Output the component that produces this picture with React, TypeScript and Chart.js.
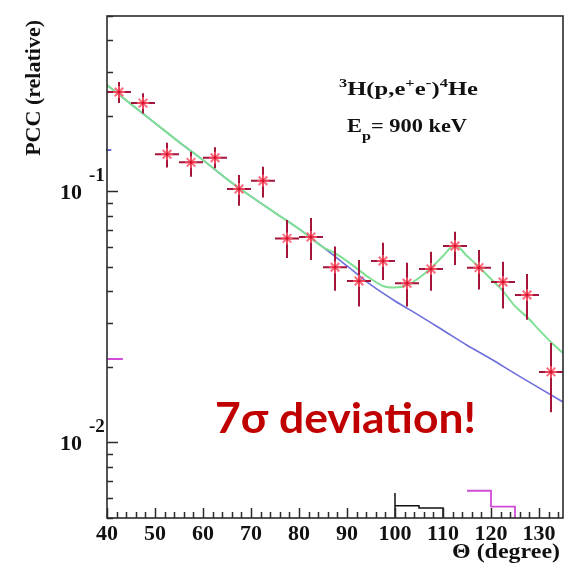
import { useEffect, useRef } from 'react';
import { Chart, registerables } from 'chart.js';

Chart.register(...registerables);

// ---- data ----
const angles = [42.5, 47.5, 52.5, 57.5, 62.5, 67.5, 72.5, 77.5, 82.5, 87.5, 92.5, 97.5, 102.5, 107.5, 112.5, 117.5, 122.5, 127.5, 132.5];
const pcc = [0.2489, 0.2249, 0.1406, 0.1306, 0.1362, 0.1022, 0.1103, 0.0650, 0.0658, 0.0499, 0.0440, 0.0528, 0.0431, 0.0491, 0.0606, 0.0497, 0.0436, 0.0387, 0.0191];
const pccHigh = [0.2729, 0.2460, 0.1563, 0.1439, 0.1499, 0.1162, 0.1254, 0.0769, 0.0783, 0.0603, 0.0533, 0.0625, 0.0520, 0.0575, 0.0691, 0.0584, 0.0525, 0.0469, 0.0249];
const pccLow = [0.2249, 0.2046, 0.1247, 0.1144, 0.1236, 0.0877, 0.0947, 0.0543, 0.0533, 0.0402, 0.0348, 0.0444, 0.0348, 0.0402, 0.0509, 0.0407, 0.0342, 0.0308, 0.0132];
const angleHalfWidth = 2.5;

const bgAngles = [40, 45, 50, 55, 60, 65, 70, 75, 80, 85, 90, 95, 100, 105, 110, 115, 120, 125, 130, 135];
const bgFit = [0.2655, 0.2228, 0.1873, 0.1574, 0.1334, 0.1120, 0.0955, 0.0822, 0.0709, 0.0600, 0.0505, 0.0424, 0.0366, 0.0321, 0.0280, 0.0244, 0.0215, 0.0188, 0.0165, 0.0145];

const totalAngles = [40, 45, 50, 55, 60, 65, 70, 75, 80, 85, 87.5, 90, 92.5, 95, 97.5, 100, 102.5, 105, 107.5, 110, 112.5, 115, 117.5, 120, 122.5, 125, 127.5, 130, 132.5, 135];
const totalFit = [0.2655, 0.2228, 0.1873, 0.1574, 0.1334, 0.1120, 0.0955, 0.0822, 0.0709, 0.0600, 0.0568, 0.0528, 0.0486, 0.0448, 0.0420, 0.0414, 0.0424, 0.0452, 0.0495, 0.0553, 0.0612, 0.0553, 0.0500, 0.0448, 0.0401, 0.0349, 0.0316, 0.0281, 0.0251, 0.0227];

const histBlackX = [100, 100, 100, 105, 105, 110, 110];
const histBlackY = [0.005, 0.00629, 0.0056, 0.0056, 0.00548, 0.00548, 0.005];
const histMagentaX = [115, 120, 120, 125, 125];
const histMagentaY = [0.00642, 0.00642, 0.00555, 0.00555, 0.005];
const sideMagentaX = [40, 43.3];
const sideMagentaY = [0.0215, 0.0215];
const sideBlueX = [39.8, 40.9];
const sideBlueY = [0.1462, 0.1462];

const xTickLabels = [40, 50, 60, 70, 80, 90, 100, 110, 120, 130];
const yDecades = [0.1, 0.01];
const yExponents = ['-1', '-2'];

const X_MIN = 40;
const X_MAX = 135;
const Y_MIN = 0.005;
const Y_MAX = 0.5;

const SERIF = '"Liberation Serif", "Times New Roman", serif';
const AXIS_COLOR = '#2b2b2b';

type Piece = { t: string; size: number; dy: number };

function drawRich(ctx: CanvasRenderingContext2D, pieces: Piece[], x: number, baseline: number, width: number) {
  let natural = 0;
  for (const p of pieces) {
    ctx.font = `bold ${p.size}px ${SERIF}`;
    natural += ctx.measureText(p.t).width;
  }
  const sx = width / natural;
  ctx.save();
  ctx.translate(x, baseline);
  ctx.scale(sx, 1);
  ctx.textAlign = 'left';
  ctx.textBaseline = 'alphabetic';
  let cx = 0;
  for (const p of pieces) {
    ctx.font = `bold ${p.size}px ${SERIF}`;
    ctx.fillText(p.t, cx, p.dy);
    cx += ctx.measureText(p.t).width;
  }
  ctx.restore();
}

const errorBarPlugin = {
  id: 'errorBars',
  beforeDatasetDraw(chart: any, args: any) {
    if (args.index !== 1) return;
    const { ctx, scales } = chart;
    const xs = scales.x;
    const ys = scales.y;
    ctx.save();
    ctx.strokeStyle = '#a3163a';
    ctx.lineWidth = 2;
    angles.forEach((a, i) => {
      const px = xs.getPixelForValue(a);
      const py = ys.getPixelForValue(pcc[i]);
      ctx.beginPath();
      ctx.moveTo(px, ys.getPixelForValue(pccHigh[i]));
      ctx.lineTo(px, ys.getPixelForValue(pccLow[i]));
      ctx.moveTo(xs.getPixelForValue(a - angleHalfWidth), py);
      ctx.lineTo(xs.getPixelForValue(a + angleHalfWidth), py);
      ctx.stroke();
    });
    ctx.restore();
  },
};

const framePlugin = {
  id: 'rootFrame',
  afterDraw(chart: any) {
    const { ctx, chartArea: ca, scales } = chart;
    const xs = scales.x;
    const ys = scales.y;
    ctx.save();
    ctx.strokeStyle = AXIS_COLOR;
    ctx.lineWidth = 1.6;
    ctx.strokeRect(ca.left, ca.top, ca.right - ca.left, ca.bottom - ca.top);

    // x ticks (inward)
    ctx.lineWidth = 1.5;
    ctx.beginPath();
    for (let v = X_MIN; v < X_MAX; v += 2) {
      const px = Math.round(xs.getPixelForValue(v)) + 0.5;
      const len = v % 10 === 0 ? 10 : 6;
      ctx.moveTo(px, ca.bottom);
      ctx.lineTo(px, ca.bottom - len);
    }
    // y ticks (inward)
    for (let e = -3; e <= 0; e++) {
      for (let m = 1; m <= 9; m++) {
        const v = m * Math.pow(10, e);
        if (v < Y_MIN * 0.999 || v > Y_MAX * 1.001) continue;
        const py = Math.round(ys.getPixelForValue(v)) + 0.5;
        const len = m === 1 ? 11 : 6;
        ctx.moveTo(ca.left, py);
        ctx.lineTo(ca.left + len, py);
      }
    }
    ctx.stroke();

    // x tick labels
    ctx.fillStyle = '#111';
    ctx.textAlign = 'center';
    ctx.textBaseline = 'alphabetic';
    ctx.font = `bold 22px ${SERIF}`;
    xTickLabels.forEach((v) => {
      ctx.fillText(String(v), xs.getPixelForValue(v), 540);
    });

    // y decade labels 10^-n
    yDecades.forEach((v, i) => {
      const py = ys.getPixelForValue(v);
      ctx.font = `bold 22px ${SERIF}`;
      ctx.textAlign = 'right';
      ctx.fillText('10', 82, py + 8);
      ctx.font = `bold 19px ${SERIF}`;
      ctx.textAlign = 'left';
      ctx.fillText(yExponents[i], 89, py - 10);
    });

    // axis titles
    ctx.save();
    ctx.translate(40, 20);
    ctx.rotate(-Math.PI / 2);
    ctx.font = `bold 22px ${SERIF}`;
    ctx.textAlign = 'right';
    ctx.textBaseline = 'alphabetic';
    ctx.fillText('PCC (relative)', 0, 0);
    ctx.restore();

    drawRich(ctx, [{ t: 'Θ (degree)', size: 22, dy: 0 }], 452, 558, 108);

    // annotations
    drawRich(
      ctx,
      [
        { t: '3', size: 12, dy: -8 },
        { t: 'H(p,e', size: 18, dy: 0 },
        { t: '+', size: 12, dy: -8 },
        { t: 'e', size: 18, dy: 0 },
        { t: '-', size: 13, dy: -8 },
        { t: ')', size: 18, dy: 0 },
        { t: '4', size: 12, dy: -8 },
        { t: 'He', size: 18, dy: 0 },
      ],
      339,
      95,
      139
    );
    drawRich(
      ctx,
      [
        { t: 'E', size: 18, dy: 0 },
        { t: 'p', size: 13, dy: 8 },
        { t: '= 900 keV', size: 18, dy: 0 },
      ],
      347,
      132,
      120
    );

    // highlight text
    ctx.save();
    ctx.font = 'bold 42px Lato, "Open Sans", sans-serif';
    const w = ctx.measureText('7σ deviation!').width;
    ctx.translate(215, 433);
    ctx.scale(261 / w, 1);
    ctx.fillStyle = '#c00000';
    ctx.textAlign = 'left';
    ctx.fillText('7σ deviation!', 0, 0);
    ctx.restore();

    ctx.restore();
  },
};

const toPts = (xs: number[], ys: number[]) => xs.map((x, i) => ({ x, y: ys[i] }));

export default function App() {
  const ref = useRef<HTMLCanvasElement | null>(null);

  useEffect(() => {
    if (!ref.current) return;
    const lineBase = { showLine: true, pointRadius: 0, fill: false };
    const chart = new Chart(ref.current, {
      type: 'scatter',
      data: {
        datasets: [
          {
            label: 'centre',
            data: toPts(angles, pcc),
            pointStyle: 'rectRot',
            pointRadius: 2,
            backgroundColor: '#d9102c',
            borderColor: '#d9102c',
            borderWidth: 0,
          },
          {
            label: 'data',
            data: toPts(angles, pcc),
            pointStyle: 'star',
            pointRadius: 6,
            borderColor: 'rgba(250,80,100,0.85)',
            backgroundColor: 'rgba(250,80,100,0.85)',
            borderWidth: 2,
          },
          {
            ...lineBase,
            label: 'signal + background',
            data: toPts(totalAngles, totalFit),
            borderColor: '#7fe095',
            borderWidth: 2,
            cubicInterpolationMode: 'monotone',
          },
          {
            ...lineBase,
            label: 'background',
            data: toPts(bgAngles, bgFit),
            borderColor: '#6e6edc',
            borderWidth: 1.6,
            cubicInterpolationMode: 'monotone',
          },
          {
            ...lineBase,
            label: 'hist black',
            data: toPts(histBlackX, histBlackY),
            borderColor: '#111111',
            borderWidth: 1.5,
          },
          {
            ...lineBase,
            label: 'hist magenta',
            data: toPts(histMagentaX, histMagentaY),
            borderColor: '#d24bd8',
            borderWidth: 1.8,
          },
          {
            ...lineBase,
            label: 'side magenta',
            data: toPts(sideMagentaX, sideMagentaY),
            borderColor: '#d24bd8',
            borderWidth: 2,
            clip: false,
          },
          {
            ...lineBase,
            label: 'side blue',
            data: toPts(sideBlueX, sideBlueY),
            borderColor: '#3a3ad0',
            borderWidth: 1.5,
            clip: false,
          },
        ],
      } as any,
      options: {
        animation: false,
        responsive: false,
        maintainAspectRatio: false,
        devicePixelRatio: 1,
        layout: { padding: { top: 16, right: 15, left: 0, bottom: 0 } },
        plugins: { legend: { display: false }, tooltip: { enabled: false } },
        scales: {
          x: {
            type: 'linear',
            min: X_MIN,
            max: X_MAX,
            ticks: { display: false, stepSize: 10 },
            grid: { display: false },
            border: { display: false },
            afterFit: (s: any) => {
              s.height = 58;
            },
          },
          y: {
            type: 'logarithmic',
            min: Y_MIN,
            max: Y_MAX,
            ticks: { display: false },
            grid: { display: false },
            border: { display: false },
            afterFit: (s: any) => {
              s.width = 107;
            },
          },
        },
      } as any,
      plugins: [errorBarPlugin, framePlugin],
    });
    return () => chart.destroy();
  }, []);

  return (
    <div style={{ position: 'absolute', left: 0, top: 0, width: 578, height: 576, background: '#fff' }}>
      <canvas ref={ref} width={578} height={576} />
    </div>
  );
}
